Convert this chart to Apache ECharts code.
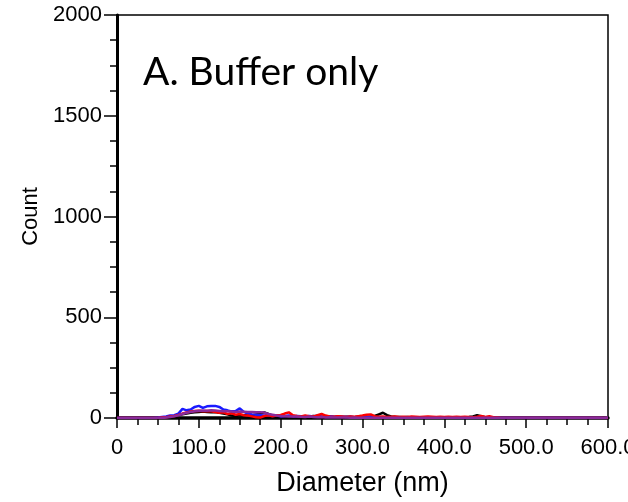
<!DOCTYPE html>
<html>
<head>
<meta charset="utf-8">
<script src="https://cdn.jsdelivr.net/npm/echarts@6/dist/echarts.min.js"></script>
<style>
  html, body { margin: 0; padding: 0; background: #fff; overflow: hidden; }
  #chart { width: 628px; height: 502px; }
</style>
</head>
<body>
<div id="chart"></div>
<script>
// Particle size distribution (counts per 5 nm bin), four replicate runs
const diameterNm = [
  0, 5, 10, 15, 20, 25, 30, 35, 40, 45,
  50, 55, 60, 65, 70, 75, 80, 85, 90, 95,
  100, 105, 110, 115, 120, 125, 130, 135, 140, 145,
  150, 155, 160, 165, 170, 175, 180, 185, 190, 195,
  200, 205, 210, 215, 220, 225, 230, 235, 240, 245,
  250, 255, 260, 265, 270, 275, 280, 285, 290, 295,
  300, 305, 310, 315, 320, 325, 330, 335, 340, 345,
  350, 355, 360, 365, 370, 375, 380, 385, 390, 395,
  400, 405, 410, 415, 420, 425, 430, 435, 440, 445,
  450, 455, 460, 465, 470, 475, 480, 485, 490, 495,
  500, 505, 510, 515, 520, 525, 530, 535, 540, 545,
  550, 555, 560, 565, 570, 575, 580, 585, 590, 595,
  600
];

const run1Black = [
  0, 0, 0, 0, 0, 0, 0, 0, 0, 0,
  0, 0, 2, 5, 8, 14, 18, 22, 26, 28,
  30, 32, 30, 28, 30, 26, 22, 18, 12, 10,
  14, 12, 16, 14, 18, 22, 28, 20, 12, 10,
  8, 6, 8, 5, 7, 9, 6, 8, 10, 7,
  5, 8, 6, 5, 7, 4, 6, 5, 4, 6,
  8, 5, 7, 10, 18, 26, 14, 8, 6, 5,
  4, 5, 3, 4, 3, 4, 3, 2, 4, 3,
  2, 3, 2, 3, 4, 3, 5, 8, 14, 9,
  4, 3, 2, 1, 0, 0, 0, 0, 0, 0,
  0, 0, 0, 0, 0, 0, 0, 0, 0, 0,
  0, 0, 0, 0, 0, 0, 0, 0, 0, 0,
  0
];

const run2Blue = [
  0, 0, 0, 0, 0, 0, 0, 0, 0, 0,
  2, 5, 8, 12, 14, 22, 45, 38, 42, 55,
  60, 50, 58, 60, 60, 55, 42, 38, 33, 35,
  48, 30, 22, 18, 16, 14, 12, 14, 10, 12,
  8, 10, 12, 8, 10, 9, 7, 10, 8, 12,
  8, 6, 9, 7, 6, 8, 5, 7, 4, 6,
  5, 4, 6, 3, 5, 4, 3, 2, 4, 3,
  2, 3, 2, 3, 2, 1, 3, 2, 1, 2,
  1, 2, 1, 0, 0, 0, 0, 0, 0, 0,
  0, 0, 0, 0, 0, 0, 0, 0, 0, 0,
  0, 0, 0, 0, 0, 0, 0, 0, 0, 0,
  0, 0, 0, 0, 0, 0, 0, 0, 0, 0,
  0
];

const run3Red = [
  0, 0, 0, 0, 0, 0, 0, 0, 0, 0,
  0, 2, 4, 7, 10, 15, 22, 28, 32, 35,
  36, 34, 35, 33, 30, 26, 28, 20, 24, 16,
  20, 14, 12, 8, 4, 2, 10, 14, 8, 12,
  15, 22, 28, 14, 10, 8, 12, 9, 7, 14,
  20, 12, 8, 6, 9, 7, 5, 8, 6, 9,
  12, 16, 18, 9, 6, 7, 5, 6, 7, 5,
  6, 5, 7, 6, 5, 6, 7, 6, 5, 6,
  5, 6, 5, 6, 5, 6, 5, 4, 6, 10,
  5, 9, 4, 2, 0, 0, 0, 0, 0, 0,
  0, 0, 0, 0, 0, 0, 0, 0, 0, 0,
  0, 0, 0, 0, 0, 0, 0, 0, 0, 0,
  0
];

const run4Purple = [
  0, 0, 0, 0, 0, 0, 0, 0, 0, 0,
  0, 0, 2, 5, 9, 14, 20, 26, 30, 34,
  36, 37, 36, 38, 37, 35, 33, 34, 32, 30,
  32, 31, 30, 30, 29, 28, 27, 20, 16, 12,
  10, 9, 8, 7, 8, 6, 5, 7, 5, 4,
  5, 3, 4, 3, 2, 3, 2, 1, 2, 1,
  1, 1, 1, 1, 1, 1, 1, 1, 1, 1,
  1, 1, 1, 1, 1, 1, 1, 1, 1, 1,
  1, 1, 1, 1, 1, 1, 1, 1, 1, 1,
  1, 1, 1, 1, 1, 1, 1, 1, 1, 1,
  1, 1, 1, 1, 1, 1, 1, 1, 1, 1,
  1, 1, 1, 1, 1, 1, 1, 1, 1, 0,
  3
];

const runs = [
  { name: 'Run 1', color: '#000000', values: run1Black },
  { name: 'Run 2', color: '#1a1aff', values: run2Blue },
  { name: 'Run 3', color: '#ff0000', values: run3Red },
  { name: 'Run 4', color: '#8a2a9a', values: run4Purple }
];

const panelTitle = 'A. Buffer only';
const tickFont = 'Liberation Sans, Arial, sans-serif';

const chart = echarts.init(document.getElementById('chart'), null, { width: 628, height: 502 });

chart.setOption({
  animation: false,
  backgroundColor: '#ffffff',
  grid: {
    left: 117, right: 20, top: 15, bottom: 84,
    containLabel: false,
    outerBoundsMode: 'none',
    show: true, borderColor: '#000', borderWidth: 1.5, backgroundColor: 'transparent'
  },
  graphic: [{
    type: 'text',
    left: 143,
    top: 53,
    style: { text: panelTitle, font: '39px Lato, "Open Sans", sans-serif', fill: '#000' }
  }],
  xAxis: {
    type: 'value',
    min: 0, max: 600, interval: 100,
    name: 'Diameter (nm)',
    nameLocation: 'middle',
    nameGap: 52,
    nameTextStyle: { fontSize: 27, color: '#000', fontFamily: tickFont },
    axisLine: { show: true, onZero: false, lineStyle: { color: '#000', width: 3.5 } },
    axisTick: { show: true, inside: false, length: 10, lineStyle: { color: '#000', width: 1.5 } },
    minorTick: { show: true, splitNumber: 4, length: 7, lineStyle: { color: '#000', width: 1.5 } },
    splitLine: { show: false },
    axisLabel: {
      fontSize: 22, color: '#000', fontFamily: tickFont, margin: 19,
      hideOverlap: false,
      formatter: v => (v === 0 ? '0' : v.toFixed(1))
    }
  },
  yAxis: {
    type: 'value',
    min: 0, max: 2000, interval: 500,
    name: 'Count',
    nameLocation: 'middle',
    nameGap: 67,
    nameTextStyle: { fontSize: 22, color: '#000', fontFamily: tickFont },
    axisLine: { show: true, onZero: false, lineStyle: { color: '#000', width: 3 } },
    axisTick: { show: true, inside: false, length: 13, lineStyle: { color: '#000', width: 1.5 } },
    minorTick: { show: true, splitNumber: 4, length: 7, lineStyle: { color: '#000', width: 1.5 } },
    splitLine: { show: false },
    axisLabel: {
      fontSize: 22, color: '#000', fontFamily: tickFont, margin: 15,
      formatter: v => String(v)
    }
  },
  series: runs.map(r => ({
    name: r.name,
    type: 'line',
    showSymbol: false,
    symbol: 'none',
    lineStyle: { color: r.color, width: 2.5 },
    itemStyle: { color: r.color },
    data: diameterNm.map((d, i) => [d, r.values[i]])
  }))
});
</script>
</body>
</html>
